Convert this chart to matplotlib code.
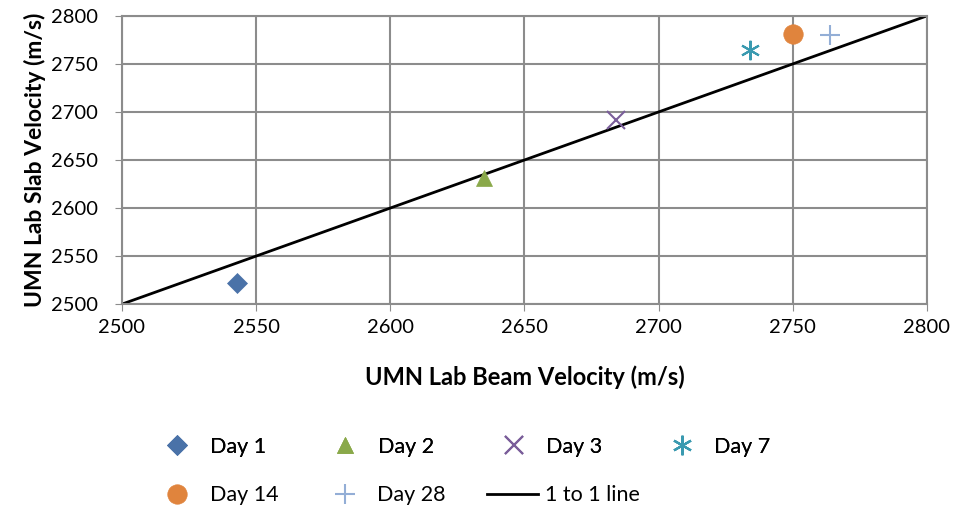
import matplotlib.pyplot as plt

plt.rcParams['font.family'] = ['Lato', 'DejaVu Sans']

# valores
days = ['Day 1', 'Day 2', 'Day 3', 'Day 7', 'Day 14', 'Day 28']
beam_vel = [2543, 2635, 2684, 2734, 2750, 2764]
slab_vel = [2522, 2631, 2692, 2764, 2781, 2780]
line_x = [2500, 2800]
line_y = [2500, 2800]

markers = ['D', '^', 'x', (6, 2, 0), 'o', '+']
colors = ['#4a72a8', '#8aa94a', '#7a5e9a', '#3a9ab0', '#e0843d', '#93aed6']
sizes = [10, 12, 13, 14, 14, 14]

fig = plt.figure(figsize=(9.58, 5.12), dpi=100)
ax = fig.add_axes([0.1273, 0.406, 0.8403, 0.563])

handles = []
for d, x, y, m, c, s in zip(days, beam_vel, slab_vel, markers, colors, sizes):
    thin = m in ('x', '+') or isinstance(m, tuple)
    h, = ax.plot([x], [y], linestyle='none', marker=m, color=c, markersize=s,
                 markeredgewidth=1.5 if thin else 0.5, label=d, zorder=3)
    handles.append(h)

ln, = ax.plot(line_x, line_y, color='black', linewidth=2, label='1 to 1 line', zorder=2)

ax.set_xlim(2500, 2800)
ax.set_ylim(2500, 2800)
ax.set_xticks(range(2500, 2801, 50))
ax.set_yticks(range(2500, 2801, 50))
ax.grid(True, color='#8c8c8c', linewidth=1.5)
ax.set_axisbelow(True)
for sp in ax.spines.values():
    sp.set_color('#8c8c8c')
    sp.set_linewidth(1.5)
ax.tick_params(labelsize=14.5, length=5, color='#8c8c8c')
ax.tick_params(axis='y', pad=12)
ax.tick_params(axis='x', pad=6)
ax.set_xlabel('UMN Lab Beam Velocity (m/s)', fontsize=17, fontweight='bold', labelpad=21)
ax.set_ylabel('UMN Lab Slab Velocity (m/s)', fontsize=16.5, fontweight='bold', labelpad=4)

# leyenda en dos filas
leg_kw = dict(loc='center left', frameon=False, fontsize=15.5,
              handlelength=2.4, handletextpad=0.3)
leg1 = fig.legend(handles[:4], days[:4], ncol=4, bbox_to_anchor=(0.138, 0.127),
                  columnspacing=2.5, **leg_kw)
fig.add_artist(leg1)
fig.legend(handles[4:] + [ln], days[4:] + ['1 to 1 line'], ncol=3,
           bbox_to_anchor=(0.138, 0.033), columnspacing=1.9, **leg_kw)

fig.savefig('out.png', dpi=100)
